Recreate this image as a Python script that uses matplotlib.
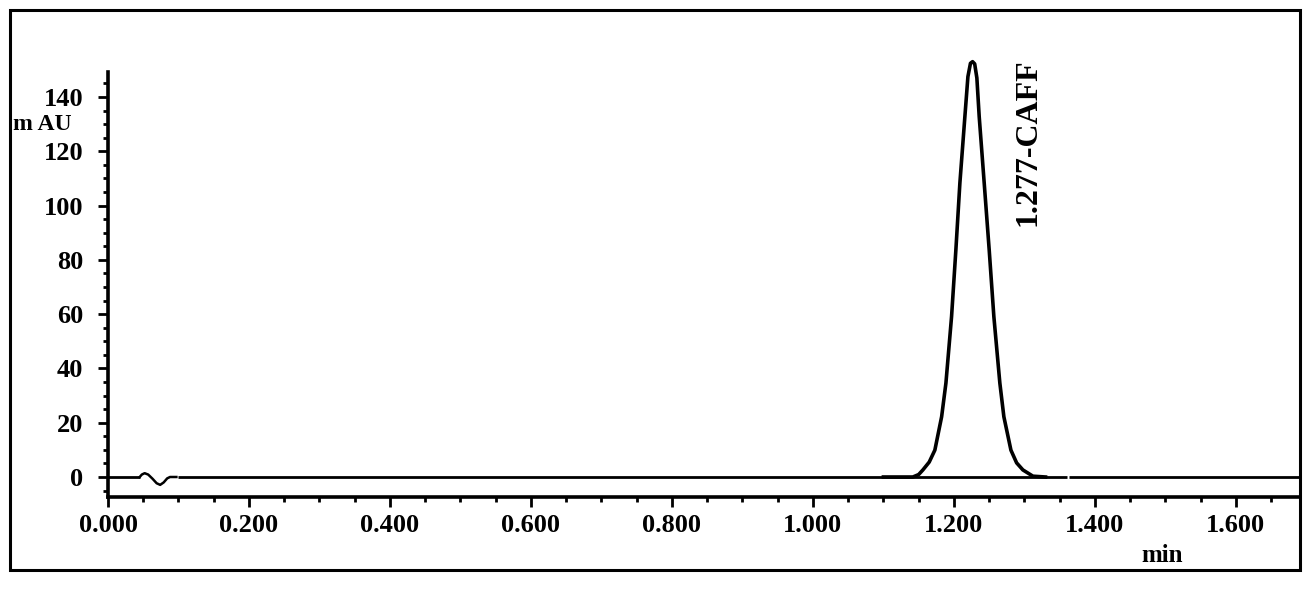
import matplotlib.pyplot as plt
from matplotlib.patches import Rectangle
from matplotlib.ticker import MultipleLocator, FormatStrFormatter

plt.rcParams['font.family'] = ['Liberation Serif', 'DejaVu Serif']
plt.rcParams['font.weight'] = 'bold'

# baseline pieces (min, mAU)
base1_t = [0.000, 0.045]
base1_y = [0.0, 0.0]
wig_t = [0.045, 0.048, 0.052, 0.057, 0.063, 0.069, 0.074, 0.079, 0.084, 0.088, 0.097]
wig_y = [0.0, 0.9, 1.4, 0.9, -0.6, -2.3, -2.9, -2.0, -0.5, 0.0, 0.0]
base2_t = [0.100, 1.361]
base2_y = [0.0, 0.0]
base3_t = [1.364, 1.691]
base3_y = [0.0, 0.0]

# peak
peak_t = [1.100, 1.1418, 1.150, 1.156, 1.165, 1.173, 1.1826, 1.1887, 1.1967, 1.2028,
          1.2085, 1.2156, 1.2199, 1.2235, 1.2265, 1.2295, 1.2326, 1.2359, 1.2430,
          1.2501, 1.2567, 1.2652, 1.2709, 1.2809, 1.2890, 1.2979, 1.3121, 1.330]
peak_y = [0.0, 0.0, 0.9, 2.6, 5.5, 9.9, 22.2, 34.6, 59.1, 83.6,
          108.3, 132.8, 147.5, 152.4, 153.0, 152.2, 147.0, 132.8, 108.3,
          83.6, 59.1, 34.6, 22.2, 9.9, 5.2, 2.6, 0.3, 0.0]

peak_label = '1.277-CAFF'
peak_label_pos = (1.305, 123.5)

fig = plt.figure(figsize=(13.12, 6.14), dpi=100)
ax = fig.add_axes([108 / 1312, 117 / 614, 1192 / 1312, 425 / 614])

ax.plot(base1_t, base1_y, color='black', lw=2.0, solid_capstyle='butt')
ax.plot(wig_t, wig_y, color='black', lw=1.8)
ax.plot(base2_t, base2_y, color='black', lw=2.0, solid_capstyle='butt')
ax.plot(base3_t, base3_y, color='black', lw=2.0, solid_capstyle='butt')
ax.plot(peak_t, peak_y, color='black', lw=2.6, solid_joinstyle='round', clip_on=False)

ax.set_xlim(0, 1.691)
ax.set_ylim(-7.37, 149.2)

for s in ['top', 'right']:
    ax.spines[s].set_visible(False)
for s in ['left', 'bottom']:
    ax.spines[s].set_linewidth(2.6)

ax.xaxis.set_major_locator(MultipleLocator(0.2))
ax.xaxis.set_minor_locator(MultipleLocator(0.05))
ax.xaxis.set_major_formatter(FormatStrFormatter('%.3f'))
ax.yaxis.set_major_locator(MultipleLocator(20))
ax.yaxis.set_minor_locator(MultipleLocator(5))

ax.tick_params(axis='both', which='major', direction='out', width=2.0, length=7,
               labelsize=19)
ax.tick_params(axis='both', which='minor', direction='out', width=2.0, length=3.5)
ax.tick_params(axis='y', which='major', pad=11)
ax.tick_params(axis='x', which='major', pad=5)

ax.text(*peak_label_pos, peak_label, rotation=90, ha='center', va='center',
        fontsize=23, fontweight='bold')

fig.text(13 / 1312, 1 - 125 / 614, 'm AU', ha='left', va='center',
         fontsize=17, fontweight='bold')
fig.text(1162 / 1312, 1 - 555 / 614, 'min', ha='center', va='center',
         fontsize=18, fontweight='bold')

fig.patches.append(Rectangle((10 / 1312, 1 - 570 / 614), 1290 / 1312, 560 / 614,
                             transform=fig.transFigure, fill=False,
                             edgecolor='black', lw=2.2))

fig.savefig('out.png', dpi=100)
